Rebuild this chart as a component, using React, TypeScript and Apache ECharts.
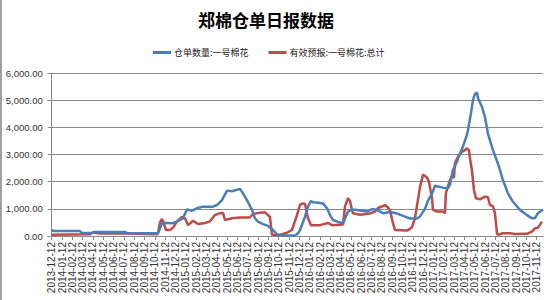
import React, { useEffect, useRef } from "react";
import * as echarts from "echarts";

const TITLE = "郑棉仓单日报数据";
const SERIES_NAMES = ["仓单数量:一号棉花", "有效预报:一号棉花:总计"];

const MONTH_LABELS = [
  "2013-12-12",
  "2014-01-12", "2014-02-12", "2014-03-12", "2014-04-12", "2014-05-12", "2014-06-12",
  "2014-07-12", "2014-08-12", "2014-09-12", "2014-10-12", "2014-11-12", "2014-12-12",
  "2015-01-12", "2015-02-12", "2015-03-12", "2015-04-12", "2015-05-12", "2015-06-12",
  "2015-07-12", "2015-08-12", "2015-09-12", "2015-10-12", "2015-11-12", "2015-12-12",
  "2016-01-12", "2016-02-12", "2016-03-12", "2016-04-12", "2016-05-12", "2016-06-12",
  "2016-07-12", "2016-08-12", "2016-09-12", "2016-10-12", "2016-11-12", "2016-12-12",
  "2017-01-12", "2017-02-12", "2017-03-12", "2017-04-12", "2017-05-12", "2017-06-12",
  "2017-07-12", "2017-08-12", "2017-09-12", "2017-10-12", "2017-11-12",
];

// [months since 2013-12-12, value]
const WARRANTS: [number, number][] = [
  [0, 220], [0.22, 180], [2.74, 180], [2.94, 110], [3.91, 110], [4.1, 150],
  [7.1, 150], [7.3, 110], [10.01, 100], [10.3, 100], [10.69, 480], [10.98, 480],
  [11.75, 470], [12.24, 560], [12.72, 650], [13.11, 980], [13.6, 930], [14.08, 1020],
  [14.66, 1080], [15.63, 1080], [16.02, 1140], [16.5, 1320], [16.99, 1670], [17.47, 1650],
  [17.96, 1700], [18.25, 1730], [18.54, 1570], [18.92, 1320], [19.41, 960], [19.7, 650],
  [19.99, 530], [20.48, 440], [20.96, 370], [21.45, 220], [21.83, 60], [22.41, 20],
  [23.58, 20], [23.87, 100], [24.06, 220], [24.55, 710], [24.83, 1080], [25.13, 1290],
  [25.32, 1240], [25.81, 1220], [26.29, 1200], [26.68, 1020], [26.97, 770], [27.26, 590],
  [27.74, 520], [28.23, 470], [28.71, 900], [29.1, 980], [29.58, 960], [30.07, 930],
  [30.55, 900], [31.04, 990], [31.52, 960], [32.1, 840], [32.78, 880], [33.27, 850],
  [34.04, 740], [34.72, 640], [35.4, 640], [35.69, 720], [36.17, 1000], [36.46, 1300],
  [36.85, 1550], [37.14, 1850], [37.43, 1820], [37.91, 1780], [38.4, 1760], [38.59, 1880],
  [38.88, 2430], [39.27, 2730], [39.56, 3040], [39.85, 3290], [40.24, 3720], [40.34, 3900],
  [40.63, 4520], [40.82, 5000], [41.02, 5230], [41.21, 5280], [41.31, 5080], [41.69, 4760],
  [41.98, 4390], [42.27, 3780], [42.76, 3160], [43.24, 2670], [43.73, 2060], [44.21, 1570],
  [44.7, 1260], [45.38, 960], [46.06, 770], [46.54, 650], [46.83, 660], [47.12, 840],
  [47.61, 980],
];

const FORECAST: [number, number][] = [
  [0, 50], [3.71, 60], [4.0, 130], [4.68, 90], [7.1, 90], [10.2, 60],
  [10.3, 100], [10.49, 500], [10.69, 625], [10.88, 450], [11.08, 220], [11.46, 220],
  [11.75, 300], [12.14, 530], [12.62, 700], [12.92, 650], [13.21, 400], [13.69, 560],
  [14.18, 440], [14.85, 480], [15.34, 540], [15.82, 770], [16.31, 840], [16.6, 850],
  [16.79, 590], [17.47, 650], [18.25, 680], [19.21, 680], [19.51, 810], [20.18, 860],
  [20.67, 870], [20.96, 770], [21.15, 700], [21.35, 40], [22.12, 40], [22.8, 120],
  [23.28, 220], [23.77, 770], [24.06, 1150], [24.35, 1200], [24.55, 1180], [24.83, 660],
  [25.13, 400], [25.99, 400], [26.77, 480], [27.16, 400], [28.23, 420], [28.42, 1080],
  [28.71, 1390], [28.9, 1300], [29.1, 960], [29.19, 840], [29.87, 780], [30.84, 830],
  [31.33, 900], [31.62, 1030], [32.3, 1140], [32.59, 1050], [32.78, 950], [33.07, 470],
  [33.27, 220], [34.43, 200], [34.72, 260], [34.91, 330], [35.2, 650], [35.69, 1800],
  [35.98, 2260], [36.37, 2150], [36.56, 2000], [36.85, 1400], [36.95, 960], [37.33, 900],
  [37.91, 900], [38.11, 840], [38.2, 1580], [38.59, 2060], [38.79, 2180], [38.98, 2150],
  [39.08, 2690], [39.37, 2920], [39.76, 3100], [40.05, 3160], [40.24, 3230], [40.43, 3150],
  [40.53, 2870], [40.72, 2430], [40.92, 1690], [41.11, 1390], [41.5, 1350], [41.98, 1450],
  [42.27, 1430], [42.47, 1140], [42.76, 1100], [42.95, 840], [43.15, 100], [43.24, 40],
  [43.73, 100], [44.41, 100], [44.9, 70], [46.06, 80], [46.54, 160], [46.83, 280],
  [47.12, 300], [47.51, 530],
];

const X_MAX = 47.61;
const Y_MAX = 6000;
const Y_STEP = 1000;

const fmtY = (v: number) =>
  v.toLocaleString("en-US", { minimumFractionDigits: 2, maximumFractionDigits: 2 });

export default function App() {
  const ref = useRef<HTMLDivElement>(null);
  useEffect(() => {
    if (!ref.current) return;
    const chart = echarts.init(ref.current, undefined, { renderer: "svg" });
    const numFont = "'Liberation Sans', Arial, sans-serif";
    const cjkFont = "'Noto Sans CJK SC', sans-serif";
    chart.setOption({
      animation: false,
      backgroundColor: "#ffffff",
      title: {
        text: TITLE,
        left: 193,
        top: 6,
        textStyle: { fontFamily: cjkFont, fontSize: 17, fontWeight: "bold", color: "#000" },
      },
      legend: {
        left: 148,
        top: 43,
        itemWidth: 18,
        itemHeight: 3,
        itemGap: 20,
        icon: "rect",
        textStyle: { fontFamily: cjkFont, fontSize: 9, color: "#222", padding: [0, 0, 0, -2] },
        data: SERIES_NAMES,
      },
      grid: { left: 51.7, right: 550 - 543, top: 73, bottom: 64, containLabel: false },
      xAxis: {
        type: "value",
        min: 0,
        max: X_MAX,
        interval: 1,
        axisLine: { show: true, lineStyle: { color: "#8a8a8a", width: 1 } },
        axisTick: { show: true, length: 4, lineStyle: { color: "#8a8a8a" } },
        splitLine: { show: false },
        axisLabel: {
          rotate: 90,
          margin: 6,
          fontFamily: numFont,
          fontSize: 10,
          color: "#333",
          showMaxLabel: false,
          formatter: (v: number) => {
            const i = Math.round(v);
            return Math.abs(v - i) < 1e-6 && MONTH_LABELS[i] ? MONTH_LABELS[i] : "";
          },
        },
      },
      yAxis: {
        type: "value",
        min: 0,
        max: Y_MAX,
        interval: Y_STEP,
        axisLine: { show: true, lineStyle: { color: "#8a8a8a", width: 1 } },
        axisTick: { show: true, length: 4, lineStyle: { color: "#8a8a8a" } },
        splitLine: { show: true, lineStyle: { color: "#8a8a8a", width: 1 } },
        axisLabel: {
          margin: 9,
          fontFamily: numFont,
          fontSize: 9.5,
          color: "#333",
          formatter: (v: number) => fmtY(v),
        },
      },
      series: [
        {
          name: SERIES_NAMES[0],
          type: "line",
          data: WARRANTS,
          showSymbol: false,
          symbol: "none",
          lineStyle: { color: "#4a7ebb", width: 2.5 },
          itemStyle: { color: "#4a7ebb" },
          z: 3,
        },
        {
          name: SERIES_NAMES[1],
          type: "line",
          data: FORECAST,
          showSymbol: false,
          symbol: "none",
          lineStyle: { color: "#be4b48", width: 2.5 },
          itemStyle: { color: "#be4b48" },
          z: 2,
        },
      ],
      graphic: [
        { type: "rect", left: 0, top: 0, shape: { width: 2, height: 300 }, style: { fill: "#a0a0a0" } },
      ],
    });
    return () => chart.dispose();
  }, []);
  return <div ref={ref} style={{ width: 550, height: 300, position: "fixed", left: 0, top: 0 }} />;
}
